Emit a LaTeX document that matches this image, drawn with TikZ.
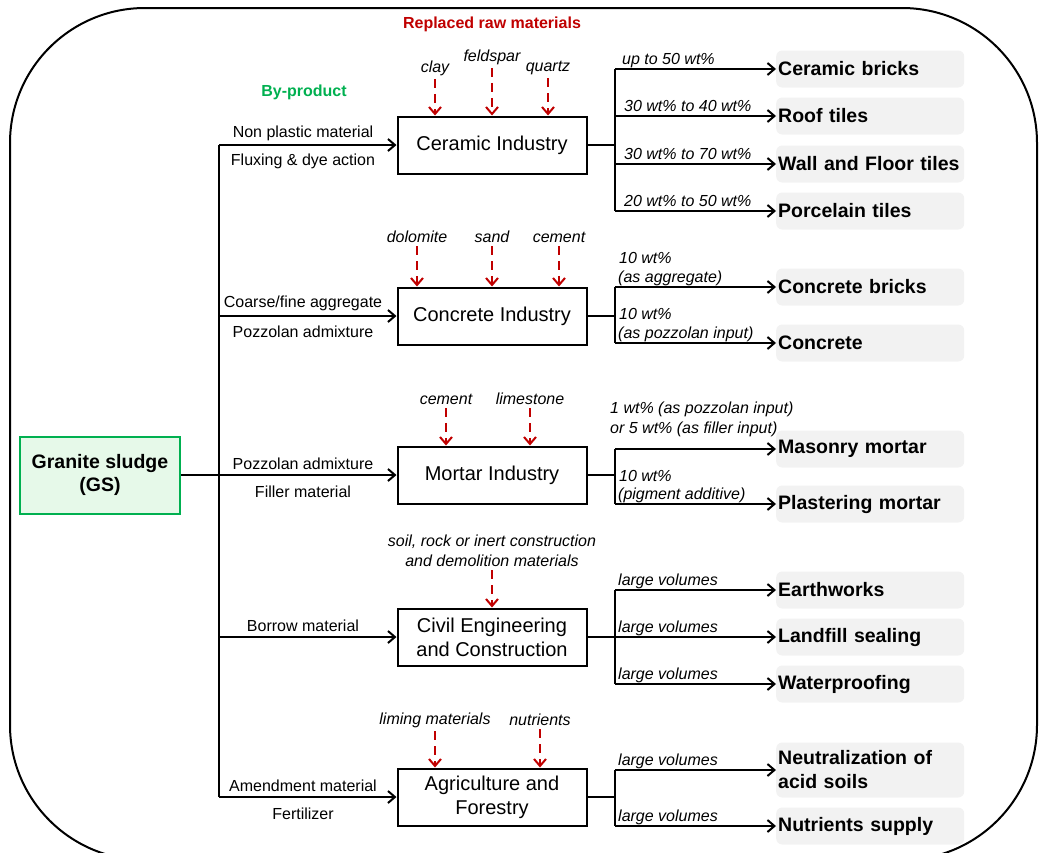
\documentclass[tikz,border=0pt]{standalone}
\usepackage{fontspec}
\setmainfont{Liberation Sans}
\usetikzlibrary{arrows.meta, positioning}
\definecolor{RawRed}{RGB}{192, 0, 0}
\definecolor{ByGreen}{RGB}{0, 176, 80}
\definecolor{SludgeFill}{RGB}{230, 249, 233}
\definecolor{OutGray}{RGB}{242, 242, 242}

\tikzset{
  plain/.style={line width=2pt},
  flow/.style={line width=2pt, -{Straight Barb[length=7pt, width=12pt]}},
  raw/.style={RawRed, line width=2pt, dash pattern=on 9pt off 6pt, -{Straight Barb[length=7pt, width=12pt]}},
  industry/.style={draw, line width=2pt, minimum width=189pt, minimum height=57pt, align=center, font=\fontsize{20}{24}\selectfont},
  product/.style={fill=OutGray, rounded corners=6pt, anchor=west, minimum height=37pt, text width=184pt, inner xsep=2pt, align=left, font=\fontsize{19.5}{24}\selectfont\bfseries},
  rawlbl/.style={font=\fontsize{16}{20}\selectfont\itshape, align=center},
  share/.style={font=\fontsize{16}{19}\selectfont\itshape, anchor=base west, inner sep=0pt},
  use/.style={font=\fontsize{16}{19}\selectfont},
}

\begin{document}
\begin{tikzpicture}[x=1pt, y=-1pt]
    \clip (0,0) rectangle (1039,852);
    % Frame
    \draw[line width=2pt, rounded corners=135pt] (10,8) rectangle (1037,860);

    % Headings
    \node[font=\fontsize{16}{19}\selectfont\bfseries, text=RawRed] (hraw) at (492,24) {Replaced raw materials};
    \node[font=\fontsize{16}{19}\selectfont\bfseries, text=ByGreen] (hby) at (304,92) {By-product};

    % Granite sludge
    \node[draw=ByGreen, fill=SludgeFill, line width=2pt, minimum width=160pt, minimum height=77pt, align=center, font=\fontsize{19.5}{23}\selectfont\bfseries] (gs) at (100,475) {Granite sludge\\(GS)};

    % Industries
    \node[industry] (ceramic) at (492,145) {Ceramic Industry};
    \node[industry] (concrete) at (492,316) {Concrete Industry};
    \node[industry] (mortar) at (492,475) {Mortar Industry};
    \node[industry] (civil) at (492,637) {Civil Engineering\\and Construction};
    \node[industry] (agri) at (492,797) {Agriculture and\\Forestry};

    % By-product lines
    \coordinate (trunk) at (219,0);
    \draw[flow] (gs) -- (mortar);
    \draw[plain] (trunk |- ceramic) -- (trunk |- agri);
    \foreach \ind in {ceramic, concrete, civil, agri}
      \draw[flow] (trunk |- \ind) -- (\ind);

    \node[use] (u1) at (303,133) {Non plastic material};
    \node[use] (u2) at (303,161) {Fluxing \& dye action};
    \node[use] (u3) at (303,303) {Coarse/fine aggregate};
    \node[use] (u4) at (303,332) {Pozzolan admixture};
    \node[use] (u5) at (303,464) {Pozzolan admixture};
    \node[use] (u6) at (303,492) {Filler material};
    \node[use] (u7) at (303,626) {Borrow material};
    \node[use] (u8) at (303,786) {Amendment material};
    \node[use] (u9) at (303,814) {Fertilizer};

    % Replaced raw materials
    \node[rawlbl] (clay) at (435,68) {clay};
    \node[rawlbl] (feld) at (492,57) {feldspar};
    \node[rawlbl] (quartz) at (548,68) {quartz};
    \foreach \r in {clay, feld, quartz}
      \draw[raw] (\r.south) -- (\r.south |- ceramic.north);

    \node[rawlbl] (dolo) at (417,237) {dolomite};
    \node[rawlbl] (sand) at (492,237) {sand};
    \node[rawlbl] (cem1) at (559,237) {cement};
    \foreach \r in {dolo, sand, cem1}
      \draw[raw] (\r.south) -- (\r.south |- concrete.north);

    \node[rawlbl] (cem2) at (446,399) {cement};
    \node[rawlbl] (lime) at (530,399) {limestone};
    \foreach \r in {cem2, lime}
      \draw[raw] (\r.south) -- (\r.south |- mortar.north);

    \node[rawlbl] (soil) at (492,551) {soil, rock or inert construction\\and demolition materials};
    \draw[raw] (soil.south) -- (soil.south |- civil.north);

    \node[rawlbl] (liming) at (435,720) {liming materials};
    \node[rawlbl] (nutri) at (540,720) {nutrients};
    \foreach \r in {liming, nutri}
      \draw[raw] (\r.south) -- (\r.south |- agri.north);

    % Products
    \coordinate (br) at (615,0);

    \node[product] (cbrick) at (776,69) {Ceramic bricks};
    \node[product] (roof) at (776,116) {Roof tiles};
    \node[product] (wall) at (776,164) {Wall and Floor tiles};
    \node[product] (porc) at (776,211) {Porcelain tiles};
    \draw[plain] (ceramic.east) -- (br |- ceramic.east);
    \draw[plain] (br |- cbrick) -- (br |- porc);
    \foreach \p in {cbrick, roof, wall, porc}
      \draw[flow] (br |- \p) -- (\p);
    \node[share] at (622,64) {up to 50 wt\%};
    \node[share] at (624,111) {30 wt\% to 40 wt\%};
    \node[share] at (624,159) {30 wt\% to 70 wt\%};
    \node[share] at (624,206) {20 wt\% to 50 wt\%};

    \node[product] (cbr) at (776,287) {Concrete bricks};
    \node[product] (conc) at (776,343) {Concrete};
    \draw[plain] (concrete.east) -- (br |- concrete.east);
    \draw[plain] (br |- cbr) -- (br |- conc);
    \foreach \p in {cbr, conc}
      \draw[flow] (br |- \p) -- (\p);
    \node[share] at (619,263) {10 wt\%};
    \node[share] at (618,282) {(as aggregate)};
    \node[share] at (619,319) {10 wt\%};
    \node[share] at (618,338) {(as pozzolan input)};

    \node[product] (mason) at (776,449) {Masonry mortar};
    \node[product] (plaster) at (776,504) {Plastering mortar};
    \draw[plain] (mortar.east) -- (br |- mortar.east);
    \draw[plain] (br |- mason) -- (br |- plaster);
    \foreach \p in {mason, plaster}
      \draw[flow] (br |- \p) -- (\p);
    \node[share] at (610,413) {1 wt\% (as pozzolan input)};
    \node[share] at (610,433) {or 5 wt\% (as filler input)};
    \node[share] at (619,481) {10 wt\%};
    \node[share] at (618,499) {(pigment additive)};

    \node[product] (earth) at (776,590) {Earthworks};
    \node[product] (landf) at (776,637) {Landfill sealing};
    \node[product] (water) at (776,684) {Waterproofing};
    \draw[plain] (civil.east) -- (br |- civil.east);
    \draw[plain] (br |- earth) -- (br |- water);
    \foreach \p in {earth, landf, water}
      \draw[flow] (br |- \p) -- (\p);
    \node[share] at (618,585) {large volumes};
    \node[share] at (618,632) {large volumes};
    \node[share] at (618,679) {large volumes};

    \node[product, minimum height=55pt] (neutr) at (776,770) {Neutralization of\\acid soils};
    \node[product] (nsup) at (776,826) {Nutrients supply};
    \draw[plain] (agri.east) -- (br |- agri.east);
    \draw[plain] (br |- neutr) -- (br |- nsup);
    \foreach \p in {neutr, nsup}
      \draw[flow] (br |- \p) -- (\p);
    \node[share] at (618,765) {large volumes};
    \node[share] at (618,821) {large volumes};
\end{tikzpicture}
\end{document}
